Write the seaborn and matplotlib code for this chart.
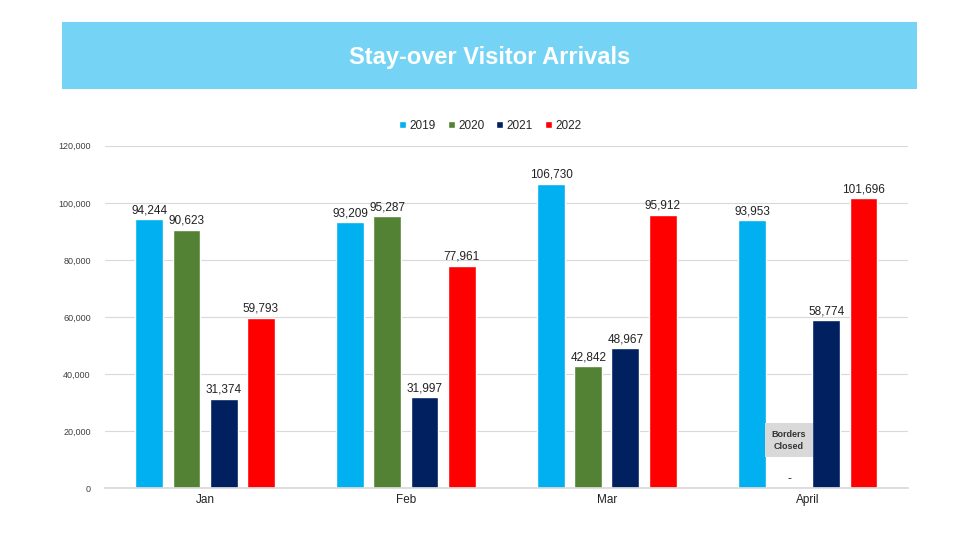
import pandas as pd
import matplotlib.pyplot as plt
import seaborn as sns
from matplotlib.patches import Rectangle

# Data
months = ['Jan', 'Feb', 'Mar', 'April']
years = ['2019', '2020', '2021', '2022']
arrivals_2019 = [94244, 93209, 106730, 93953]
arrivals_2020 = [90623, 95287, 42842, 0]
arrivals_2021 = [31374, 31997, 48967, 58774]
arrivals_2022 = [59793, 77961, 95912, 101696]
colors = ['#00B0F0', '#548235', '#002060', '#FF0000']

df = pd.DataFrame({
    'Month': months * 4,
    'Year': [y for y in years for _ in months],
    'Arrivals': arrivals_2019 + arrivals_2020 + arrivals_2021 + arrivals_2022,
})

sns.set_theme(style="white")
plt.rcParams['font.family'] = ['Liberation Sans', 'DejaVu Sans']

fig = plt.figure(figsize=(9.6, 5.4), dpi=100)
ax = fig.add_axes([0.109, 0.096, 0.837, 0.634])

sns.barplot(data=df, x='Month', y='Arrivals', hue='Year', palette=colors,
            width=0.74, gap=0.25, ax=ax, saturation=1, legend=True)

# data labels
for cont in ax.containers:
    labels = [f"{v:,.0f}" if v > 0 else '-' for v in cont.datavalues]
    ax.bar_label(cont, labels=labels, fontsize=8.5, padding=2, color='#222222')

ax.set_ylim(0, 120000)
ax.set_yticks(range(0, 120001, 20000))
ax.yaxis.set_major_formatter(plt.FuncFormatter(lambda v, p: f"{v:,.0f}"))
ax.tick_params(axis='y', labelsize=6.5, colors='#404040', length=0, pad=10)
ax.tick_params(axis='x', labelsize=8.5, colors='#222222', length=0, pad=4)
ax.grid(axis='y', color='#D9D9D9', lw=0.8)
ax.set_axisbelow(True)
ax.set_xlabel('')
ax.set_ylabel('')
for s in ['left', 'right', 'top']:
    ax.spines[s].set_visible(False)
ax.spines['bottom'].set_color('#D9D9D9')

# "Borders Closed" note on April 2020
ax.text(2.905, 16800, 'Borders\nClosed', ha='center', va='center', fontsize=6.5,
        fontweight='bold', color='#333333', linespacing=1.4,
        bbox=dict(boxstyle='square,pad=0.75', fc='#D9D9D9', ec='none'))

leg = ax.legend(loc='lower center', bbox_to_anchor=(0.48, 1.01), ncol=4,
                frameon=False, fontsize=8.5, handlelength=0.6, handleheight=0.6,
                handletextpad=0.3, columnspacing=1.0)

# title banner
fig.patches.append(Rectangle((0.0646, 0.835), 0.891, 0.124, transform=fig.transFigure,
                             fc='#75D4F6', ec='none', zorder=0))
fig.text(0.51, 0.894, 'Stay-over Visitor Arrivals', ha='center', va='center',
         fontsize=17, fontweight='bold', color='white')

plt.savefig('out.png', dpi=100)
